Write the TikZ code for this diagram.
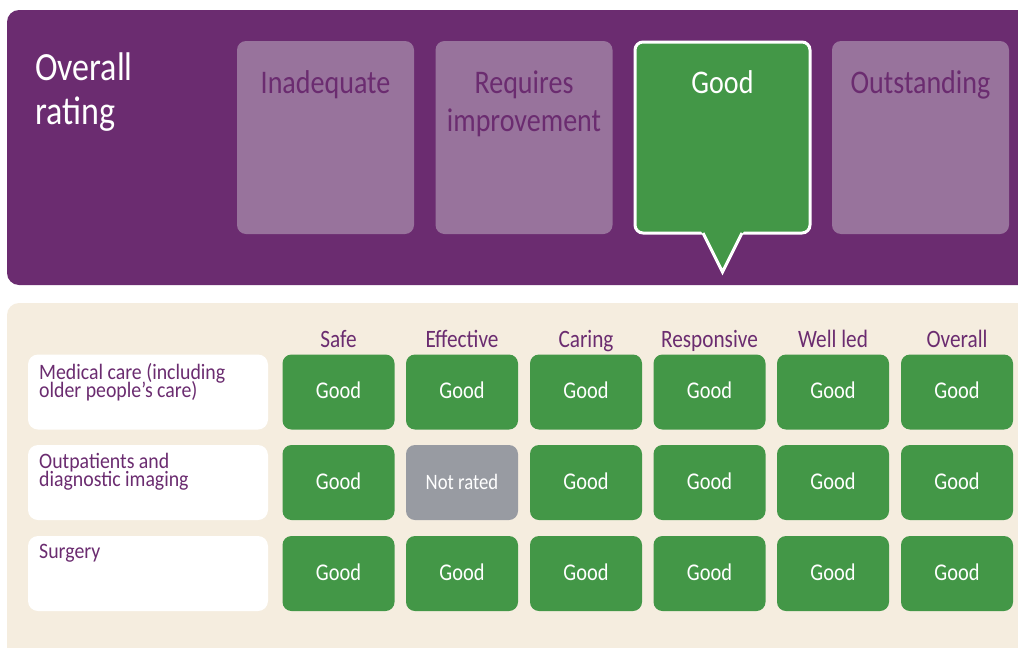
\documentclass[tikz,border=0pt]{standalone}
\usepackage{fontspec}
\setmainfont{Carlito}
\newfontfamily\hdfont{Carlito}[FakeStretch=0.85]
\newfontfamily\lblfont{Carlito}[FakeStretch=0.9]
\newcommand\tightlines{\lineskiplimit=-30pt\relax}
\definecolor{cqcpurple}{RGB}{107,44,112}
\definecolor{cqclight}{RGB}{152,115,156}
\definecolor{cqcgreen}{RGB}{67,151,71}
\definecolor{cqcgrey}{RGB}{152,155,162}
\definecolor{cqcbeige}{RGB}{245,237,223}
\begin{document}
\begin{tikzpicture}[x=1pt,y=-1pt,
  ratebox/.style={fill=cqclight, rounded corners=9pt, minimum width=177pt, minimum height=193pt, inner sep=0pt},
  ratetxt/.style={text=cqcpurple, font=\hdfont\fontsize{33}{38}\selectfont, anchor=base, inner sep=0pt, align=center},
  cell/.style={fill=cqcgreen, rounded corners=9pt, minimum width=112pt, minimum height=75pt, inner sep=0pt,
    text=white, font=\hdfont\fontsize{24}{24}\selectfont, text height=13pt, text depth=0pt},
  greycell/.style={cell, fill=cqcgrey, font=\hdfont\fontsize{22}{22}\selectfont},
  colhead/.style={text=cqcpurple, font=\hdfont\fontsize{25}{25}\selectfont, anchor=base, inner sep=0pt},
  rowbox/.style={fill=white, rounded corners=10pt, minimum width=240pt, minimum height=75pt, inner sep=0pt},
  rowtxt/.style={text=cqcpurple, font=\lblfont\fontsize{22}{18}\selectfont\tightlines, anchor=north west, inner sep=0pt, align=left}
]
\useasboundingbox (0,0) rectangle (1018,648);
\clip (0,0) rectangle (1018,648);
\fill[white] (0,0) rectangle (1018,648);
% top panel
\fill[cqcpurple, rounded corners=12pt] (7,10) rectangle (1045,285);
\node[text=white, font=\hdfont\fontsize{40}{44}\selectfont\tightlines, anchor=north west, inner sep=0pt, align=left] (overall) at (35,53) {Overall\\rating};
\node[ratebox] (inad) at (325.5,137.5) {};
\node[ratebox] (req) at (524,137.5) {};
\node[ratebox] (outst) at (920.5,137.5) {};
\node[draw=white, line width=3pt, fill=cqcgreen, rounded corners=8pt, minimum width=175pt, minimum height=191pt, inner sep=0pt] (good) at (722.5,137.5) {};
\coordinate (tip) at (722.5,272);
\fill[cqcgreen] (700,229) -- (tip) -- (745,229) -- cycle;
\draw[white, line width=3pt, line join=miter] (703,233) -- (tip) -- (742,233);
\node[ratetxt] (inadt) at (325.5,93) {Inadequate};
\node[ratetxt] (reqt) at (524,93) {Requires};
\node[ratetxt] (reqt2) at (524,131) {improvement};
\node[ratetxt, text=white] (goodt) at (722.5,93) {Good};
\node[ratetxt] (outstt) at (920.5,93) {Outstanding};
% bottom panel
\fill[cqcbeige, rounded corners=12pt] (7,303) rectangle (1045,680);
\foreach \cx/\name [count=\c] in {338.5/Safe,462/Effective,586/Caring,709.5/Responsive,833/Well led,957/Overall} {
  \node[colhead] (h\c) at (\cx,347) {\name};
  \node[cell] (r1c\c) at (\cx,392) {Good};
  \ifnum\c=2
    \node[greycell] (r2c\c) at (\cx,482.5) {Not rated};
  \else
    \node[cell] (r2c\c) at (\cx,482.5) {Good};
  \fi
  \node[cell] (r3c\c) at (\cx,573.5) {Good};
}
\node[rowbox] (row1) at (148,392) {};
\node[rowbox] (row2) at (148,482.5) {};
\node[rowbox] (row3) at (148,573.5) {};
\node[rowtxt] (row1t) at (39,363) {Medical care (including\\older people’s care)};
\node[rowtxt] (row2t) at (39,453) {Outpatients and\\diagnostic imaging};
\node[rowtxt] (row3t) at (39,544) {Surgery};
\end{tikzpicture}
\end{document}
